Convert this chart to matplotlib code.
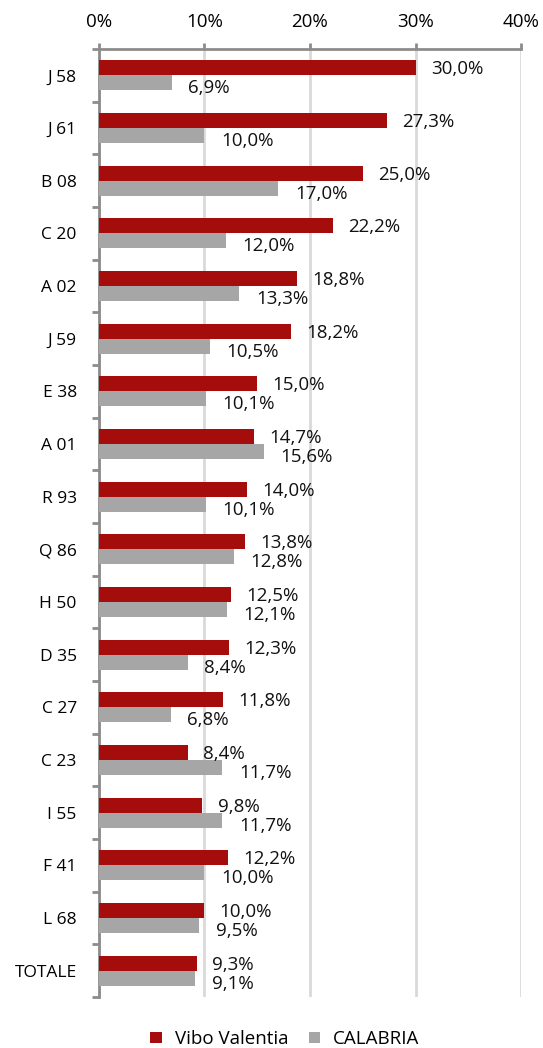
import numpy as np
import matplotlib.pyplot as plt
from matplotlib.ticker import FuncFormatter, FixedLocator

plt.rcParams['font.family'] = ['Open Sans', 'DejaVu Sans']

# Dati per settore
settori = ["J 58", "J 61", "B 08", "C 20", "A 02", "J 59", "E 38", "A 01", "R 93",
           "Q 86", "H 50", "D 35", "C 27", "C 23", "I 55", "F 41", "L 68", "TOTALE"]
vibo = [30.0, 27.3, 25.0, 22.2, 18.8, 18.2, 15.0, 14.7, 14.0,
        13.8, 12.5, 12.3, 11.8, 8.4, 9.8, 12.2, 10.0, 9.3]
calabria = [6.9, 10.0, 17.0, 12.0, 13.3, 10.5, 10.1, 15.6, 10.1,
            12.8, 12.1, 8.4, 6.8, 11.7, 11.7, 10.0, 9.5, 9.1]

rosso = "#a50d0d"
grigio = "#a6a6a6"

fig = plt.figure(figsize=(5.43, 10.48), dpi=100)
ax = fig.add_axes([0.1823, 0.0487, 0.7772, 0.9045])

y = np.arange(len(settori))
h = 0.285
ax.barh(y - h / 2, vibo, height=h, color=rosso, label="Vibo Valentia", zorder=3)
ax.barh(y + h / 2, calabria, height=h, color=grigio, label="CALABRIA", zorder=3)

# etichette con i valori
for i in range(len(settori)):
    ax.annotate(f"{vibo[i]:.1f}%".replace(".", ","), (vibo[i], y[i] - h / 2),
                xytext=(11, -1), textcoords="offset points",
                va="center", ha="left", fontsize=13.5, color="#111111")
    ax.annotate(f"{calabria[i]:.1f}%".replace(".", ","), (calabria[i], y[i] + h / 2),
                xytext=(12, -4), textcoords="offset points",
                va="center", ha="left", fontsize=13.5, color="#111111")

ax.set_xlim(0, 40)
ax.set_ylim(len(settori) - 0.5, -0.5)
ax.xaxis.tick_top()
ax.xaxis.set_major_locator(FixedLocator([0, 10, 20, 30, 40]))
ax.xaxis.set_major_formatter(FuncFormatter(lambda v, p: f"{v:.0f}%"))
ax.tick_params(axis="x", length=4, width=2, color="#8c8c8c", labelsize=13.5, pad=9)

ax.set_yticks(y)
ax.set_yticklabels(settori, fontsize=12.5)
ax.set_yticks(np.arange(len(settori) + 1) - 0.5, minor=True)
ax.tick_params(axis="y", which="major", length=0, pad=16)
ax.tick_params(axis="y", which="minor", length=5, width=2, color="#8c8c8c")

ax.grid(axis="x", color="#d9d9d9", linewidth=2, zorder=0)
ax.set_axisbelow(True)
for lato in ["right", "bottom"]:
    ax.spines[lato].set_visible(False)
for lato in ["top", "left"]:
    ax.spines[lato].set_color("#8c8c8c")
    ax.spines[lato].set_linewidth(2)

fig.legend(*ax.get_legend_handles_labels(), loc="center", bbox_to_anchor=(0.525, 0.0085),
           ncol=2, frameon=False, fontsize=13.5, handlelength=0.6, handleheight=0.6,
           columnspacing=1.1, handletextpad=0.7, borderpad=0.1)

fig.savefig("out.png", dpi=100)
